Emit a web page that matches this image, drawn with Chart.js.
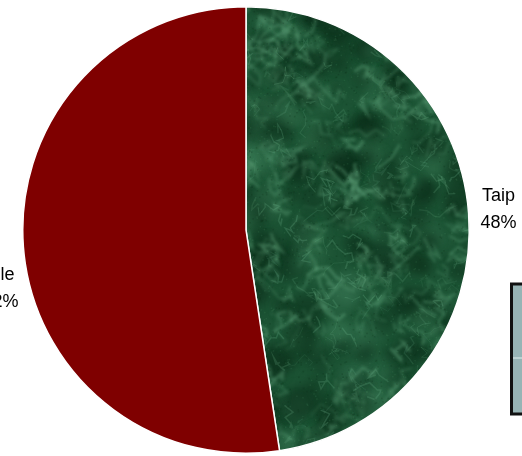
<!DOCTYPE html>
<html>
<head>
<meta charset="utf-8">
<script src="https://cdn.jsdelivr.net/npm/chart.js@4"></script>
<style>
  html, body { margin: 0; padding: 0; background: #ffffff; }
  #wrap { position: relative; width: 522px; height: 456px; overflow: hidden; }
  canvas { display: block; }
</style>
</head>
<body>
<div id="wrap"><canvas id="c" width="522" height="456"></canvas></div>
<script>
// ---- data ----
const categories = ["Taip", "Ole"];
const values = [47.6, 52.4];
const percentLabels = ["48%", "52%"];

// ---- marble texture for the green slice (decorative only) ----
function makeMarble() {
  const W = 522, H = 456;
  const cv = document.createElement('canvas');
  cv.width = W; cv.height = H;
  const g = cv.getContext('2d');
  let seed = 11;
  const rnd = () => { seed = (seed * 16807) % 2147483647; return (seed - 1) / 2147483646; };
  g.fillStyle = '#1c5334';
  g.fillRect(0, 0, W, H);
  // soft cloudy layer
  g.filter = 'blur(5px)';
  for (let i = 0; i < 700; i++) {
    const x = rnd() * W, y = rnd() * H, r = 4 + rnd() * 13;
    const light = rnd() < 0.4;
    g.fillStyle = light ? 'rgba(60,125,88,' + (0.18 + rnd() * 0.25) + ')'
                        : 'rgba(10,44,24,' + (0.28 + rnd() * 0.3) + ')';
    g.beginPath(); g.arc(x, y, r, 0, Math.PI * 2); g.fill();
  }
  // blurred veins
  g.filter = 'blur(1.6px)';
  for (let i = 0; i < 520; i++) {
    let x = rnd() * W, y = rnd() * H;
    g.strokeStyle = 'rgba(110,180,138,' + (0.15 + rnd() * 0.25) + ')';
    g.lineWidth = 1 + rnd() * 2.2;
    g.beginPath(); g.moveTo(x, y);
    const n = 3 + Math.floor(rnd() * 6);
    for (let k = 0; k < n; k++) {
      x += (rnd() - 0.5) * 26; y += (rnd() - 0.5) * 26;
      g.lineTo(x, y);
    }
    g.stroke();
  }
  // fine faint veins
  g.filter = 'blur(0.7px)';
  for (let i = 0; i < 400; i++) {
    let x = rnd() * W, y = rnd() * H;
    g.strokeStyle = 'rgba(120,190,150,' + (0.08 + rnd() * 0.15) + ')';
    g.lineWidth = 0.8 + rnd() * 0.8;
    g.beginPath(); g.moveTo(x, y);
    const n = 3 + Math.floor(rnd() * 5);
    for (let k = 0; k < n; k++) {
      x += (rnd() - 0.5) * 18; y += (rnd() - 0.5) * 18;
      g.lineTo(x, y);
    }
    g.stroke();
  }
  // fine grain
  g.filter = 'none';
  for (let i = 0; i < 5000; i++) {
    const x = rnd() * W, y = rnd() * H;
    g.fillStyle = rnd() < 0.5 ? 'rgba(8,40,20,0.2)' : 'rgba(100,170,125,0.12)';
    g.fillRect(x, y, 1.5, 1.5);
  }
  return g.createPattern(cv, 'no-repeat');
}

const ctx = document.getElementById('c').getContext('2d');
const marble = makeMarble();

const outsideLabels = {
  id: 'outsideLabels',
  afterDatasetsDraw(chart, args, opts) {
    const c = chart.ctx;
    const meta = chart.getDatasetMeta(0);
    c.save();
    c.font = opts.font;
    c.fillStyle = '#000';
    c.textAlign = 'center';
    c.textBaseline = 'middle';
    meta.data.forEach((arc, i) => {
      const p = arc.getProps(['x', 'y', 'startAngle', 'endAngle', 'outerRadius'], true);
      const mid = (p.startAngle + p.endAngle) / 2;
      const R = p.outerRadius + opts.offset;
      const nd = opts.nudge[i] || [0, 0];
      const x = p.x + Math.cos(mid) * R + nd[0];
      const y = p.y + Math.sin(mid) * R + nd[1];
      c.fillText(categories[i], x, y - opts.lineGap / 2);
      c.fillText(percentLabels[i], x, y + opts.lineGap / 2);
    });
    c.restore();
  }
};

const legendBox = {
  id: 'legendBox',
  afterDraw(chart) {
    const c = chart.ctx;
    const x = chart.width - 10.5, y = 284, h = 130;
    c.save();
    c.fillStyle = '#97b4b5';
    c.fillRect(x, y, 40, h);
    c.strokeStyle = '#c9dcdc';
    c.lineWidth = 1.5;
    c.beginPath(); c.moveTo(x, y + 74); c.lineTo(x + 40, y + 74); c.stroke();
    c.strokeStyle = '#111';
    c.lineWidth = 3;
    c.strokeRect(x, y, 40, h);
    c.restore();
  }
};

new Chart(ctx, {
  type: 'pie',
  data: {
    labels: categories,
    datasets: [{
      data: values,
      backgroundColor: [marble, '#7f0000'],
      borderColor: '#ffffff',
      borderWidth: 1.5
    }]
  },
  options: {
    responsive: false,
    animation: false,
    layout: { padding: { left: 22, right: 52, top: 6, bottom: 2 } },
    plugins: {
      legend: { display: false },
      tooltip: { enabled: false },
      outsideLabels: { font: '18px "Liberation Sans", Arial, sans-serif', offset: 28, lineGap: 27, nudge: [[2, -2], [5, 40]] }
    }
  },
  plugins: [outsideLabels, legendBox]
});
</script>
</body>
</html>
